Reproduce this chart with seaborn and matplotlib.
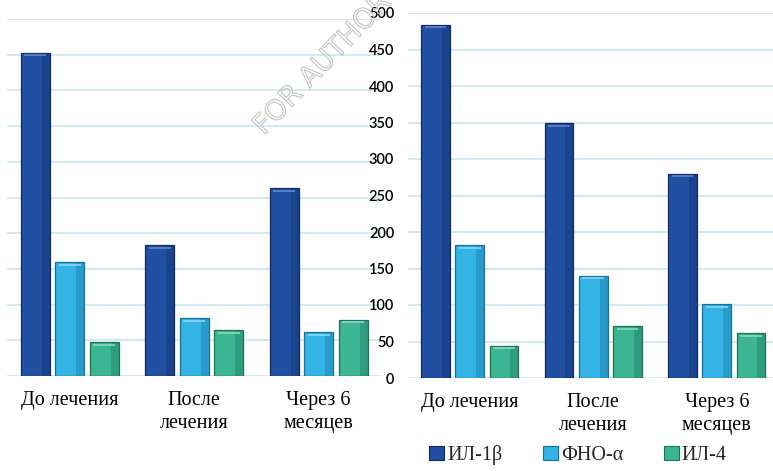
import numpy as np
import pandas as pd
import matplotlib
matplotlib.use("Agg")
import matplotlib.pyplot as plt
import matplotlib.patheffects as pe
from matplotlib.patches import Rectangle
import seaborn as sns

# Groups on the x axis and the three cytokines
categories = ["До лечения", "После\nлечения", "Через 6\nмесяцев"]
series = ["ИЛ-1β", "ФНО-α", "ИЛ-4"]

# First panel values (pg/ml)
left_il1b = [453, 183, 263]
left_tnf = [159, 81, 61]
left_il4 = [47, 64, 79]

# Second panel values (pg/ml)
right_il1b = [484, 349, 280]
right_tnf = [182, 140, 101]
right_il4 = [44, 71, 61]

y_ticks = [0, 50, 100, 150, 200, 250, 300, 350, 400, 450, 500]

face_colors = ["#2150A3", "#33B3E6", "#3BB592"]
edge_colors = ["#102A66", "#17719B", "#1B7257"]
light_colors = ["#5F86C8", "#8AD6F5", "#8AD9BE"]
grid_color = "#D3EAF3"

sns.set_theme(style="white")
plt.rcParams["font.family"] = ["Liberation Serif", "DejaVu Serif"]


def long_table(il1b, tnf, il4):
    rows = []
    for name, vals in zip(series, [il1b, tnf, il4]):
        for cat, v in zip(categories, vals):
            rows.append({"group": cat, "marker": name, "value": v})
    return pd.DataFrame(rows)


def draw_panel(ax, df, show_legend=False):
    sns.barplot(data=df, x="group", y="value", hue="marker",
                order=categories, hue_order=series,
                palette=face_colors, saturation=1, width=0.83, gap=0.16,
                errorbar=None, ax=ax, legend=show_legend, zorder=2)
    # bevel-like shading on each bar: darker rim, lighter top edge
    bars = [p for p in ax.patches if isinstance(p, Rectangle) and p.get_height() > 0]
    for i, p in enumerate(bars):
        k = i // len(categories)
        p.set_edgecolor(edge_colors[k])
        p.set_linewidth(0.9)
        x, w, h = p.get_x(), p.get_width(), p.get_height()
        ax.add_patch(Rectangle((x + w * 0.72, 0), w * 0.28, h,
                               facecolor=edge_colors[k], alpha=0.35,
                               linewidth=0, zorder=2.1))
        ax.plot([x + w * 0.12, x + w * 0.88], [h - 3.5, h - 3.5],
                color=light_colors[k], lw=1.2, zorder=2.2,
                solid_capstyle="butt")
    ax.set_ylim(0, 500)
    ax.set_xlim(-0.5, 2.5)
    ax.set_yticks(y_ticks)
    ax.yaxis.grid(True, color=grid_color, linewidth=1.4, zorder=0)
    ax.set_axisbelow(True)
    for s in ax.spines.values():
        s.set_visible(False)
    ax.set_xlabel("")
    ax.set_ylabel("")
    ax.tick_params(axis="both", length=0)
    ax.tick_params(axis="x", pad=11, labelsize=14.5, labelcolor="black")
    for lab in ax.get_xticklabels():
        lab.set_linespacing(1.3)


fig = plt.figure(figsize=(7.73, 4.71), dpi=100)
W, H = 773, 471

ax_l = fig.add_axes([7.5 / W, (H - 376) / H, 373.5 / W, 357 / H])
draw_panel(ax_l, long_table(left_il1b, left_tnf, left_il4))
ax_l.set_yticklabels([])

ax_r = fig.add_axes([408 / W, (H - 378) / H, 370.5 / W, 365 / H])
draw_panel(ax_r, long_table(right_il1b, right_tnf, right_il4), show_legend=True)
ax_r.set_yticklabels([str(t) for t in y_ticks], fontfamily="Lato",
                     fontsize=10.5, color="black", fontweight="semibold")
ax_r.tick_params(axis="y", pad=10)

handles, labels = ax_r.get_legend_handles_labels()
ax_r.get_legend().remove()
for hdl, ec in zip(handles, edge_colors):
    hdl.set_edgecolor(ec)
    hdl.set_linewidth(0.8)
fig.legend(handles, labels, loc="center", bbox_to_anchor=(578 / W, (H - 455) / H),
           ncol=3, frameon=False, fontsize=14.5, handlelength=0.75,
           handleheight=0.75, handletextpad=0.15, columnspacing=2.0,
           borderaxespad=0)

fig.text(264 / W, (H - 136) / H, "FOR AUTHOR USE ONLY", rotation=46,
         rotation_mode="anchor", ha="left", va="baseline", fontsize=20,
         fontfamily="DejaVu Sans", color="none", zorder=10,
         path_effects=[pe.Stroke(linewidth=0.8, foreground="#C4C4C4")])

fig.savefig("out.png", dpi=100)
